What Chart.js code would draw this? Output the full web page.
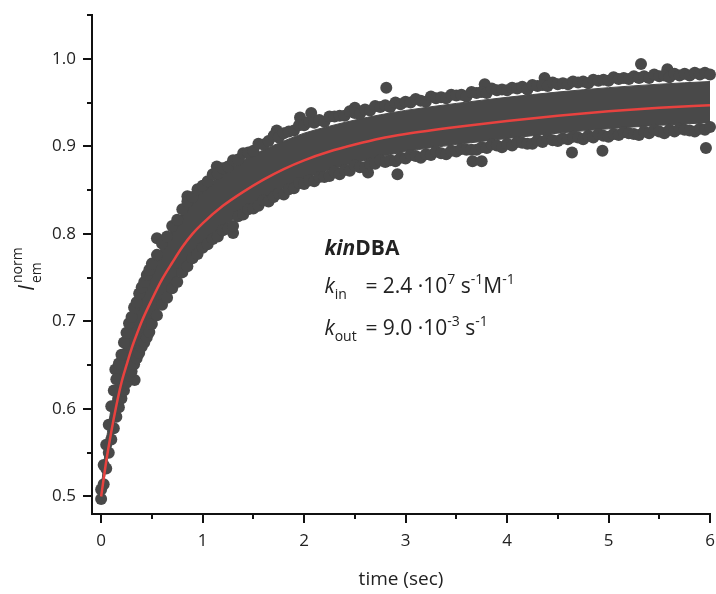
<!DOCTYPE html>
<html>
<head>
<meta charset="utf-8">
<script src="https://cdn.jsdelivr.net/npm/chart.js@4.4.1/dist/chart.umd.min.js"></script>
<style>
  body { margin: 0; background: #fff; }
  #wrap { width: 716px; height: 594px; }
</style>
</head>
<body>
<div id="wrap"><canvas id="chart"></canvas></div>
<script>
// fitted curve (red)
const fitT = [0, 0.05, 0.1, 0.15, 0.2, 0.25, 0.3, 0.35, 0.4, 0.5, 0.6, 0.7, 0.8, 0.9, 1.0, 1.2, 1.4, 1.6, 1.8, 2.0, 2.25, 2.5, 2.75, 3.0, 3.5, 4.0, 4.5, 5.0, 5.5, 6.0];
const fitI = [0.500, 0.540, 0.574, 0.604, 0.630, 0.650, 0.669, 0.685, 0.700, 0.725, 0.748, 0.767, 0.785, 0.800, 0.812, 0.832, 0.848, 0.862, 0.874, 0.884, 0.894, 0.902, 0.909, 0.914, 0.922, 0.929, 0.935, 0.940, 0.944, 0.947];

// dense core of the data cloud (upper / lower limit, same times as fitT)
const coreHi = [0.508, 0.562, 0.602, 0.634, 0.662, 0.684, 0.703, 0.720, 0.735, 0.762, 0.786, 0.806, 0.824, 0.839, 0.851, 0.869, 0.884, 0.896, 0.906, 0.915, 0.923, 0.930, 0.936, 0.941, 0.949, 0.956, 0.962, 0.967, 0.971, 0.974];
const coreLo = [0.496, 0.534, 0.566, 0.593, 0.616, 0.634, 0.650, 0.663, 0.676, 0.699, 0.721, 0.740, 0.759, 0.774, 0.787, 0.807, 0.825, 0.839, 0.852, 0.863, 0.873, 0.881, 0.888, 0.894, 0.902, 0.909, 0.915, 0.920, 0.924, 0.927];

// ragged edges of the cloud: measurement points
const edgeT = [0, 0.025, 0.05, 0.075, 0.1, 0.125, 0.15, 0.175, 0.2, 0.225, 0.25, 0.275, 0.3, 0.325, 0.35, 0.375, 0.4, 0.425, 0.45, 0.475,
  0.5, 0.55, 0.6, 0.65, 0.7, 0.75, 0.8, 0.85, 0.9, 0.95, 1.0, 1.05, 1.1, 1.15, 1.2, 1.25, 1.3, 1.35, 1.4, 1.45,
  1.5, 1.55, 1.6, 1.65, 1.7, 1.75, 1.8, 1.85, 1.9, 1.95, 2.0, 2.05, 2.1, 2.15, 2.2, 2.25, 2.3, 2.35, 2.4, 2.45,
  2.5, 2.55, 2.6, 2.65, 2.7, 2.75, 2.8, 2.85, 2.9, 2.95, 3.0, 3.05, 3.1, 3.15, 3.2, 3.25, 3.3, 3.35, 3.4, 3.45,
  3.5, 3.55, 3.6, 3.65, 3.7, 3.75, 3.8, 3.85, 3.9, 3.95, 4.0, 4.05, 4.1, 4.15, 4.2, 4.25, 4.3, 4.35, 4.4, 4.45,
  4.5, 4.55, 4.6, 4.65, 4.7, 4.75, 4.8, 4.85, 4.9, 4.95, 5.0, 5.05, 5.1, 5.15, 5.2, 5.25, 5.3, 5.35, 5.4, 5.45,
  5.5, 5.55, 5.6, 5.65, 5.7, 5.75, 5.8, 5.85, 5.9, 5.95, 6.0];
const edgeHi = [0.508, 0.536, 0.559, 0.582, 0.603, 0.621, 0.634, 0.652, 0.662, 0.676, 0.687, 0.698, 0.705, 0.716, 0.722, 0.732, 0.739, 0.745, 0.753, 0.759,
  0.766, 0.776, 0.789, 0.797, 0.809, 0.816, 0.828, 0.837, 0.842, 0.851, 0.855, 0.860, 0.868, 0.869, 0.875, 0.877, 0.884, 0.885, 0.892, 0.893,
  0.895, 0.903, 0.902, 0.906, 0.912, 0.910, 0.915, 0.917, 0.918, 0.924, 0.924, 0.928, 0.927, 0.930, 0.928, 0.934, 0.934, 0.935, 0.935, 0.940,
  0.938, 0.937, 0.942, 0.941, 0.946, 0.945, 0.947, 0.945, 0.950, 0.948, 0.951, 0.950, 0.954, 0.952, 0.951, 0.957, 0.955, 0.956, 0.955, 0.959,
  0.958, 0.959, 0.957, 0.962, 0.961, 0.962, 0.961, 0.966, 0.964, 0.965, 0.964, 0.967, 0.966, 0.968, 0.965, 0.970, 0.969, 0.970, 0.969, 0.973,
  0.971, 0.972, 0.971, 0.974, 0.973, 0.974, 0.972, 0.976, 0.975, 0.976, 0.975, 0.979, 0.977, 0.978, 0.977, 0.980, 0.978, 0.980, 0.978, 0.982,
  0.980, 0.981, 0.979, 0.983, 0.981, 0.983, 0.981, 0.984, 0.982, 0.984, 0.982];
const edgeLo = [0.497, 0.514, 0.532, 0.550, 0.565, 0.578, 0.591, 0.602, 0.612, 0.621, 0.630, 0.638, 0.643, 0.651, 0.658, 0.664, 0.671, 0.676, 0.682, 0.688,
  0.697, 0.707, 0.719, 0.727, 0.738, 0.745, 0.756, 0.763, 0.772, 0.777, 0.784, 0.788, 0.794, 0.797, 0.804, 0.806, 0.809, 0.820, 0.822, 0.828,
  0.829, 0.832, 0.838, 0.837, 0.842, 0.846, 0.845, 0.851, 0.852, 0.858, 0.857, 0.861, 0.860, 0.865, 0.865, 0.866, 0.871, 0.868, 0.873, 0.872,
  0.878, 0.876, 0.876, 0.880, 0.880, 0.884, 0.882, 0.884, 0.883, 0.887, 0.886, 0.890, 0.889, 0.887, 0.891, 0.890, 0.894, 0.892, 0.891, 0.895,
  0.894, 0.897, 0.896, 0.896, 0.896, 0.899, 0.898, 0.902, 0.901, 0.899, 0.903, 0.901, 0.905, 0.904, 0.903, 0.903, 0.907, 0.905, 0.909, 0.907,
  0.906, 0.909, 0.908, 0.911, 0.910, 0.908, 0.912, 0.910, 0.914, 0.912, 0.911, 0.914, 0.913, 0.916, 0.915, 0.914, 0.913, 0.917, 0.915, 0.919,
  0.917, 0.915, 0.919, 0.917, 0.920, 0.919, 0.918, 0.917, 0.920, 0.919, 0.922];

// isolated outlying points
const strayT = [0.14, 0.33, 0.55, 0.85, 1.14, 1.30, 1.73, 1.96, 2.07, 2.50, 2.63, 2.81, 2.92, 3.66, 3.75, 3.78, 4.37, 4.64, 4.94, 5.32, 5.58, 5.96];
const strayI = [0.645, 0.633, 0.795, 0.843, 0.877, 0.801, 0.918, 0.933, 0.938, 0.944, 0.870, 0.967, 0.868, 0.883, 0.883, 0.971, 0.978, 0.893, 0.895, 0.994, 0.988, 0.898];

const xTicks = [0, 1, 2, 3, 4, 5, 6];
const xMinor = [0.5, 1.5, 2.5, 3.5, 4.5, 5.5];
const yTicks = [0.5, 0.6, 0.7, 0.8, 0.9, 1.0];
const yMinor = [0.55, 0.65, 0.75, 0.85, 0.95, 1.05];

const FONT = '"Open Sans", "DejaVu Sans", sans-serif';
const GREY = '#494949';
const INK = '#222';

const pts = (xs, ys) => xs.map((x, i) => ({ x, y: ys[i] }));

const cloud = {
  type: 'scatter',
  backgroundColor: GREY,
  borderWidth: 0,
  pointRadius: 6,
  pointHoverRadius: 6,
  clip: false,
  order: 1
};

// outward tick marks, major and minor
const tickMarks = {
  id: 'tickMarks',
  afterDraw(chart) {
    const { ctx, chartArea, scales: { x, y } } = chart;
    ctx.save();
    ctx.strokeStyle = '#111';
    ctx.lineWidth = 2;
    ctx.beginPath();
    const xm = (v, len) => {
      const p = Math.round(x.getPixelForValue(v));
      ctx.moveTo(p, chartArea.bottom);
      ctx.lineTo(p, chartArea.bottom + len);
    };
    const ym = (v, len) => {
      const p = Math.round(y.getPixelForValue(v));
      ctx.moveTo(chartArea.left, p);
      ctx.lineTo(chartArea.left - len, p);
    };
    xTicks.forEach(v => xm(v, 9));
    xMinor.forEach(v => xm(v, 5));
    yTicks.forEach(v => ym(v, 9));
    yMinor.forEach(v => ym(v, 5));
    ctx.stroke();
    ctx.restore();
  }
};

// draws a run of text pieces, each with its own font and baseline shift
function runs(ctx, x, y, parts) {
  parts.forEach(p => {
    ctx.font = p.f;
    ctx.fillText(p.t, x, y + (p.dy || 0));
    x += ctx.measureText(p.t).width + (p.gap || 0);
  });
  return x;
}

const labels = {
  id: 'labels',
  afterDraw(chart) {
    const { ctx, scales: { x, y } } = chart;
    ctx.save();
    ctx.fillStyle = INK;
    ctx.textBaseline = 'alphabetic';
    ctx.textAlign = 'left';

    // y axis title, rotated
    ctx.save();
    ctx.translate(34, 291);
    ctx.rotate(-Math.PI / 2);
    ctx.font = 'italic 22px ' + FONT;
    ctx.fillText('I', 0, 0);
    const w = ctx.measureText('I').width + 2;
    ctx.font = '14px ' + FONT;
    ctx.fillText('norm', w, -12);
    ctx.fillText('em', w, 7);
    ctx.restore();

    // annotation
    const ax = x.getPixelForValue(2.2);
    const ay = y.getPixelForValue(0.776);
    const eqX = ax + 41;
    const reg = '21px ' + FONT, it = 'italic 21px ' + FONT, sm = '14px ' + FONT;
    runs(ctx, ax, ay, [
      { t: 'kin', f: 'italic bold 21px ' + FONT },
      { t: 'DBA', f: 'bold 21px ' + FONT }
    ]);
    runs(ctx, ax, ay + 38, [{ t: 'k', f: it }, { t: 'in', f: sm, dy: 6 }]);
    runs(ctx, eqX, ay + 38, [
      { t: '= 2.4 \u00b710', f: reg },
      { t: '7', f: sm, dy: -9 },
      { t: ' s', f: reg },
      { t: '-1', f: sm, dy: -9 },
      { t: 'M', f: reg },
      { t: '-1', f: sm, dy: -9 }
    ]);
    runs(ctx, ax, ay + 80, [{ t: 'k', f: it }, { t: 'out', f: sm, dy: 6 }]);
    runs(ctx, eqX, ay + 80, [
      { t: '= 9.0 \u00b710', f: reg },
      { t: '-3', f: sm, dy: -9 },
      { t: ' s', f: reg },
      { t: '-1', f: sm, dy: -9 }
    ]);
    ctx.restore();
  }
};

new Chart(document.getElementById('chart'), {
  type: 'scatter',
  data: {
    datasets: [
      {
        type: 'line',
        data: pts(fitT, fitI),
        borderColor: '#e8423f',
        borderWidth: 2.5,
        pointRadius: 0,
        cubicInterpolationMode: 'monotone',
        fill: false,
        order: 0
      },
      { ...cloud, data: pts(edgeT, edgeHi) },
      { ...cloud, data: pts(edgeT, edgeLo) },
      { ...cloud, data: pts(strayT, strayI) },
      {
        type: 'line',
        data: pts(fitT, coreHi),
        borderColor: GREY,
        borderWidth: 1,
        backgroundColor: GREY,
        pointRadius: 0,
        cubicInterpolationMode: 'monotone',
        fill: '+1',
        order: 5
      },
      {
        type: 'line',
        data: pts(fitT, coreLo),
        borderColor: GREY,
        borderWidth: 1,
        pointRadius: 0,
        cubicInterpolationMode: 'monotone',
        fill: false,
        order: 6
      }
    ]
  },
  options: {
    responsive: true,
    maintainAspectRatio: false,
    animation: false,
    events: [],
    layout: { padding: { top: 15, right: 5, left: 0, bottom: 0 } },
    plugins: { legend: { display: false }, tooltip: { enabled: false } },
    scales: {
      x: {
        type: 'linear',
        min: -0.09,
        max: 6,
        afterBuildTicks: s => { s.ticks = xTicks.map(v => ({ value: v })); },
        afterFit: s => { s.height = 80; s.paddingLeft = 0; s.paddingRight = 0; },
        grid: { display: false, drawTicks: false },
        border: { display: true, color: '#111', width: 2 },
        ticks: {
          font: { family: FONT, size: 17 },
          color: INK,
          padding: 17,
          maxRotation: 0,
          autoSkip: false,
          callback: v => String(v)
        },
        title: {
          display: true,
          text: 'time (sec)',
          font: { family: FONT, size: 19 },
          color: INK,
          padding: { top: 0, bottom: 3 }
        }
      },
      y: {
        type: 'linear',
        min: 0.48,
        max: 1.05,
        afterBuildTicks: s => { s.ticks = yTicks.map(v => ({ value: v })); },
        afterFit: s => { s.width = 92; s.paddingTop = 0; s.paddingBottom = 0; },
        grid: { display: false, drawTicks: false },
        border: { display: true, color: '#111', width: 2 },
        ticks: {
          font: { family: FONT, size: 17 },
          color: INK,
          padding: 16,
          callback: v => v.toFixed(1)
        }
      }
    }
  },
  plugins: [tickMarks, labels]
});
</script>
</body>
</html>
